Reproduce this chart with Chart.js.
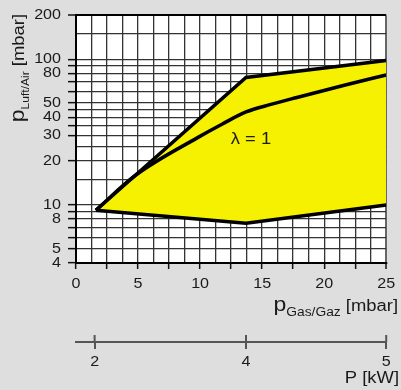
<!DOCTYPE html>
<html>
<head>
<meta charset="utf-8">
<script src="https://cdn.jsdelivr.net/npm/chart.js@4.4.1/dist/chart.umd.min.js"></script>
<style>
  html, body { margin: 0; padding: 0; background: #dedede; }
  canvas { display: block; }
</style>
</head>
<body>
<canvas id="chart" width="401" height="390"></canvas>
<script>
// gas pressure in mbar along the bottom, air pressure in mbar (log) up the side
const gasUpper = [1.6, 13.7, 25];
const airUpper = [9.2, 75, 98];
const gasLower = [1.6, 13.7, 25];
const airLower = [9.2, 7.5, 10];
const gasLambda = [1.6, 4.8, 9.8, 11.8, 13.7, 15.7, 17.8, 21.7, 25];
const airLambda = [9.2, 16, 29, 36, 43.5, 49, 54.7, 66.6, 78];

// grid lines, tick marks and labels
const gasGrid = [0, 1.25, 2.5, 3.75, 5, 6.25, 7.5, 8.75, 10, 11.25, 12.5, 13.75, 15,
                 16.25, 17.5, 18.75, 20, 21.25, 22.5, 23.75, 25];
const gasMarks = [0, 2.5, 5, 7.5, 10, 12.5, 15, 17.5, 20, 22.5, 25];
const gasLabels = [0, 5, 10, 15, 20, 25];
const airGrid = [4, 5, 6, 7, 8, 9, 10, 15, 20, 25, 30, 35, 40, 45, 50, 60, 70, 80, 90, 100, 150, 200];
const airLabels = [4, 5, 8, 10, 20, 30, 40, 50, 80, 100, 200];
const airUnmarked = [15, 25, 150];

// burner power scale under the chart: kW labels and where they sit in mbar
const powerLabels = ['2', '4', '5'];
const powerAtGas = [1.5, 13.7, 25];

const lambdaNote = { text: 'λ = 1', gas: 14.1, air: 28 };

const INK = '#1a1a1a';
const WIDEN = 1.15;

const canvas = document.getElementById('chart');
const ctx = canvas.getContext('2d');

// the original lettering is set wide, so every label gets stretched sideways
const narrowFillText = ctx.fillText.bind(ctx);
ctx.fillText = function (text, x, y) {
    ctx.save();
    ctx.translate(x, y);
    ctx.scale(WIDEN, 1);
    narrowFillText(text, 0, 0);
    ctx.restore();
};

Chart.defaults.font.family = '"Liberation Sans", Arial, sans-serif';
Chart.defaults.font.size = 14;
Chart.defaults.color = INK;

function points(xs, ys) {
    return xs.map((x, i) => ({ x: x, y: ys[i] }));
}

// "p" + subscript + " [mbar]", ending at endX on baseline 0
function drawPressureTitle(c, sub, subSize, endX) {
    const parts = [
        { text: 'p', font: '20px "Liberation Sans"', dy: 0 },
        { text: sub, font: subSize + 'px "Liberation Sans"', dy: 5 },
        { text: ' [mbar]', font: '16px "Liberation Sans"', dy: 0 }
    ];
    let width = 0;
    parts.forEach(p => { c.font = p.font; p.w = c.measureText(p.text).width * WIDEN; width += p.w; });
    let x = endX - width;
    c.textAlign = 'left';
    c.textBaseline = 'alphabetic';
    parts.forEach(p => {
        c.font = p.font;
        c.fillText(p.text, x, p.dy);
        x += p.w;
    });
}

const backdrop = {
    id: 'backdrop',
    beforeDraw(chart) {
        const c = chart.ctx;
        const a = chart.chartArea;
        c.save();
        c.fillStyle = '#dedede';
        c.fillRect(0, 0, chart.width, chart.height);
        c.fillStyle = '#ffffff';
        c.fillRect(a.left, a.top, a.right - a.left, a.bottom - a.top);
        c.restore();
    }
};

const notes = {
    id: 'notes',
    afterDraw(chart) {
        const c = chart.ctx;
        const sx = chart.scales.x;
        const sy = chart.scales.y;
        const sp = chart.scales.x2;
        c.save();
        c.fillStyle = INK;

        // axis titles
        c.save();
        c.translate(0, 311);
        drawPressureTitle(c, 'Gas/Gaz', 12, 398);
        c.restore();

        c.save();
        c.translate(23.5, 14);
        c.rotate(-Math.PI / 2);
        drawPressureTitle(c, 'Luft/Air', 10.5, 0);
        c.restore();

        c.font = '16px "Liberation Sans"';
        c.textAlign = 'right';
        c.textBaseline = 'alphabetic';
        c.fillText('P [kW]', 399, 383);

        // lambda label inside the yellow band
        c.textAlign = 'center';
        c.textBaseline = 'middle';
        c.fillText(lambdaNote.text, sx.getPixelForValue(lambdaNote.gas), sy.getPixelForValue(lambdaNote.air));

        // kW tick marks cross the line, Chart.js only draws the lower half
        c.strokeStyle = '#555';
        c.lineWidth = 2;
        sp.ticks.forEach(t => {
            const px = sp.getPixelForValue(t.value);
            c.beginPath();
            c.moveTo(px, sp.top);
            c.lineTo(px, sp.top - 7);
            c.stroke();
        });
        c.restore();
    }
};

new Chart(ctx, {
    type: 'scatter',
    data: {
        datasets: [
            {
                label: 'lower',
                data: points(gasLower, airLower),
                showLine: true,
                borderColor: '#000',
                borderWidth: 3.5,
                pointRadius: 0,
                fill: false
            },
            {
                label: 'upper',
                data: points(gasUpper, airUpper),
                showLine: true,
                borderColor: '#000',
                borderWidth: 3.5,
                pointRadius: 0,
                fill: '-1',
                backgroundColor: '#f6f100'
            },
            {
                label: 'lambda = 1',
                data: points(gasLambda, airLambda),
                showLine: true,
                borderColor: '#000',
                borderWidth: 3.5,
                pointRadius: 0,
                cubicInterpolationMode: 'monotone',
                fill: false,
                order: -1 // on top of the yellow band
            }
        ]
    },
    options: {
        responsive: false,
        animation: false,
        layout: { padding: { top: 14, right: 11, bottom: 0, left: 0 } },
        plugins: {
            legend: { display: false },
            tooltip: { enabled: false }
        },
        scales: {
            x: {
                type: 'linear',
                position: 'bottom',
                weight: 0,
                min: 0,
                max: 25,
                afterBuildTicks: s => { s.ticks = gasGrid.map(v => ({ value: v })); },
                afterFit: s => { s.height = 79; },
                ticks: {
                    autoSkip: false,
                    maxRotation: 0,
                    padding: 7,
                    callback: v => gasLabels.includes(v) ? String(v) : ''
                },
                grid: {
                    color: c => c.tick && c.tick.value === 25 ? '#666' : '#333',
                    lineWidth: c => c.tick && c.tick.value === 25 ? 2 : 1.3,
                    tickLength: 6,
                    tickWidth: 1.5,
                    tickColor: c => c.tick && gasMarks.includes(c.tick.value) ? '#111' : 'rgba(0,0,0,0)'
                },
                border: { color: '#000', width: 2 }
            },
            x2: {
                type: 'linear',
                position: 'bottom',
                weight: 1,
                min: 0,
                max: 25,
                afterBuildTicks: s => { s.ticks = powerAtGas.map(v => ({ value: v })); },
                afterFit: s => { s.height = 48; },
                ticks: {
                    autoSkip: false,
                    maxRotation: 0,
                    padding: 5,
                    callback: (v, i) => powerLabels[i]
                },
                grid: { drawOnChartArea: false, color: '#555', lineWidth: 2, tickLength: 7 },
                border: { color: '#555', width: 2 }
            },
            y: {
                type: 'logarithmic',
                min: 4,
                max: 200,
                afterBuildTicks: s => { s.ticks = airGrid.map(v => ({ value: v })); },
                afterFit: s => { s.width = 76; },
                ticks: {
                    autoSkip: false,
                    padding: 7,
                    callback: v => airLabels.includes(v) ? String(v) : ''
                },
                grid: {
                    color: c => c.tick && c.tick.value === 200 ? '#000' : '#333',
                    lineWidth: c => c.tick && c.tick.value === 200 ? 2 : 1.3,
                    tickLength: 8,
                    tickWidth: 1.5,
                    tickColor: c => c.tick && airUnmarked.includes(c.tick.value) ? 'rgba(0,0,0,0)' : '#111'
                },
                border: { color: '#000', width: 2 }
            }
        }
    },
    plugins: [backdrop, notes]
});
</script>
</body>
</html>
